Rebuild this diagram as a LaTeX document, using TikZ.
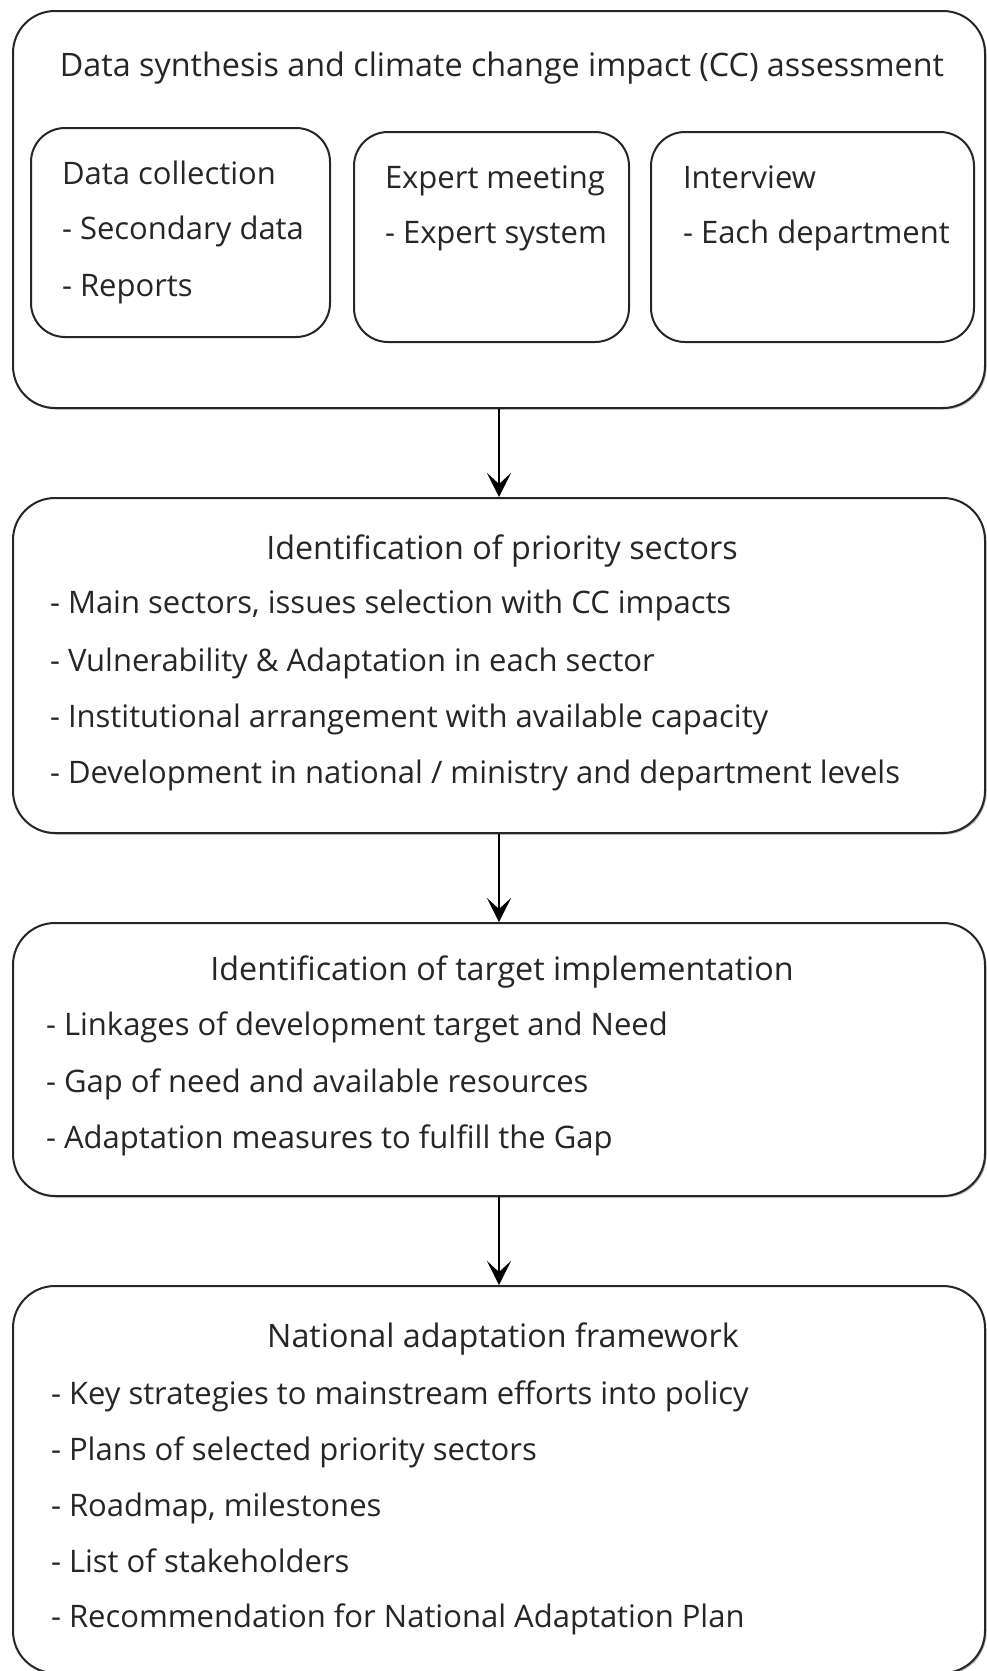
\documentclass[tikz,border=0pt]{standalone}
\usepackage{fontspec}
\setmainfont{Open Sans}
\usetikzlibrary{arrows.meta,positioning,shadows}

\begin{document}
\begin{tikzpicture}[x=1pt,y=1pt,>={Stealth[length=24pt,width=24pt,inset=11pt]},
	line width=2pt,node distance=88pt,
	stage/.style={draw=black!85,fill=white,rounded corners=42pt,minimum width=972pt,inner sep=0pt,
		drop shadow={shadow xshift=1.5pt,shadow yshift=-1.5pt,fill=black!60}},
	part/.style={draw=black!85,rounded corners=34pt,inner sep=0pt},
	txt/.style={font=\fontsize{31}{36}\selectfont,text=black!85,inner sep=0pt},
	head/.style={txt,font=\fontsize{32.3}{36}\selectfont,anchor=base},
	item/.style={txt,anchor=base west}]
		\useasboundingbox (0,0) rectangle (986,-1671);
		% stages
		\node[stage,minimum height=397pt] (synth) at (499,-209.5) {};
		\node[stage,minimum height=335pt] [below=of synth] (sector) {};
		\node[stage,minimum height=273pt] [below=of sector] (target) {};
		\node[stage,minimum height=387pt] [below=of target] (frame) {};
		\path[->]
			(synth) edge (sector)
			(sector) edge (target)
			(target) edge (frame);
		% first stage
		\node[head] (synth_t) at (502,-76) {Data synthesis and climate change impact (CC) assessment};
		\node[part,minimum width=299pt,minimum height=209pt] (collect) at (180.5,-232.5) {};
		\node[part,minimum width=275pt,minimum height=210pt] (expert) at (491.5,-237) {};
		\node[part,minimum width=323pt,minimum height=210pt] (interview) at (812.5,-237) {};
		\node[item] (collect_1) at (61,-184) {Data collection};
		\node[item] (collect_2) at (61,-239) {- Secondary data};
		\node[item] (collect_3) at (61,-296) {- Reports};
		\node[item] (expert_1) at (384,-188) {Expert meeting};
		\node[item] (expert_2) at (384,-243) {- Expert system};
		\node[item] (interview_1) at (682,-188) {Interview};
		\node[item] (interview_2) at (682,-243) {- Each department};
		% second stage
		\node[head] (sector_t) at (502,-559) {Identification of priority sectors};
		\node[item] (sector_1) at (49,-613) {- Main sectors, issues selection with CC impacts};
		\node[item] (sector_2) at (49,-671) {- Vulnerability \& Adaptation in each sector};
		\node[item] (sector_3) at (49,-727) {- Institutional arrangement with available capacity};
		\node[item] (sector_4) at (49,-783) {- Development in national / ministry and department levels};
		% third stage
		\node[head] (target_t) at (502,-980) {Identification of target implementation};
		\node[item] (target_1) at (45,-1035) {- Linkages of development target and Need};
		\node[item] (target_2) at (45,-1092) {- Gap of need and available resources};
		\node[item] (target_3) at (45,-1148) {- Adaptation measures to fulfill the Gap};
		% fourth stage
		\node[head] (frame_t) at (503,-1347) {National adaptation framework};
		\node[item] (frame_1) at (50,-1404) {- Key strategies to mainstream efforts into policy};
		\node[item] (frame_2) at (50,-1460) {- Plans of selected priority sectors};
		\node[item] (frame_3) at (50,-1516) {- Roadmap, milestones};
		\node[item] (frame_4) at (50,-1572) {- List of stakeholders};
		\node[item] (frame_5) at (50,-1627) {- Recommendation for National Adaptation Plan};
	\end{tikzpicture}
\end{document}
